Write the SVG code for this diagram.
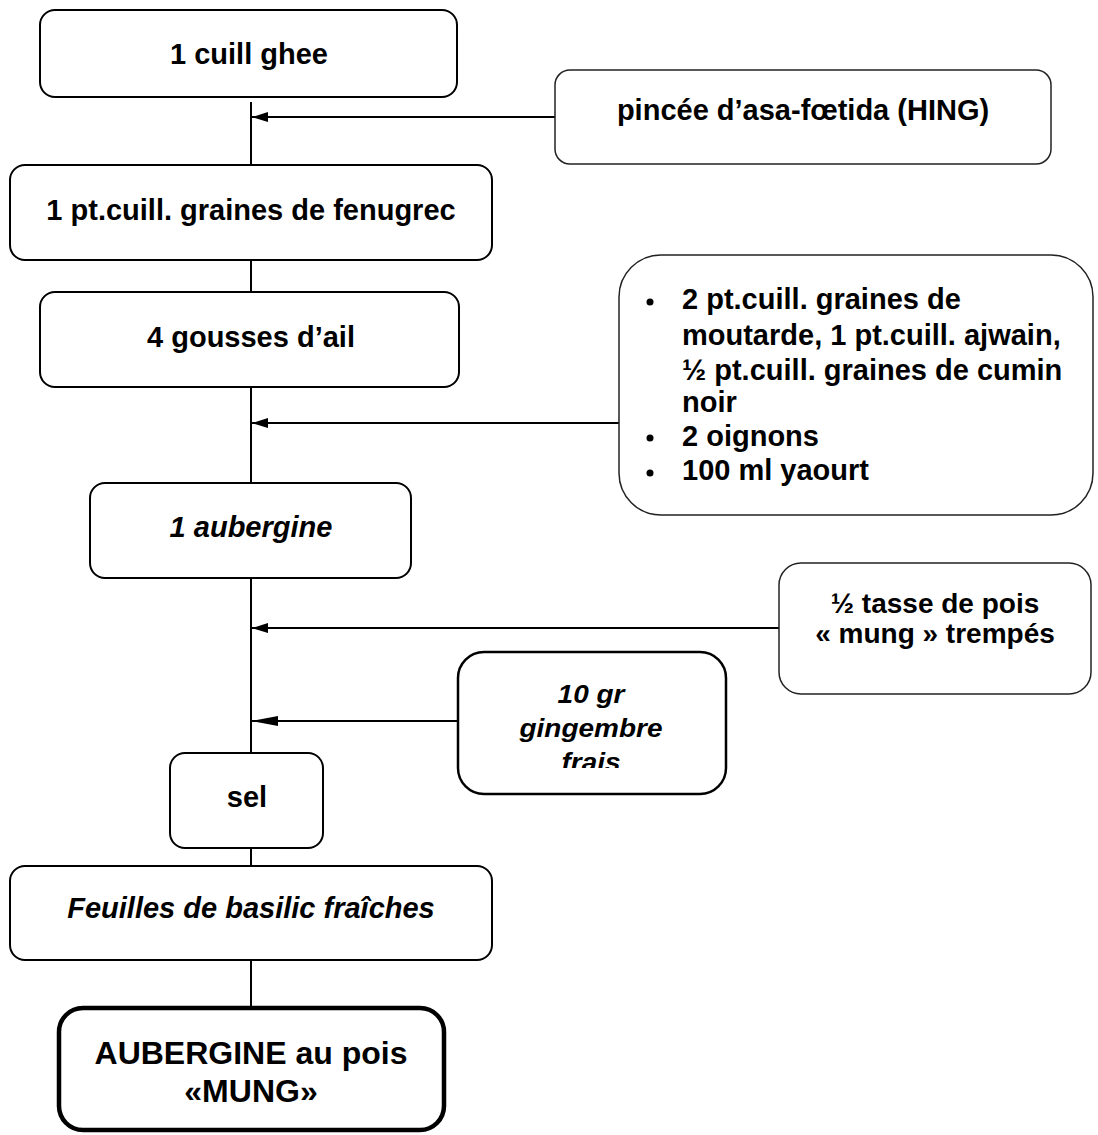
<svg xmlns="http://www.w3.org/2000/svg" width="1098" height="1135" viewBox="0 0 1098 1135">
<style>
.box{fill:#fff;stroke:#000;stroke-width:2}
.thin{stroke-width:1.5;stroke:#222}
.t{font-family:"Liberation Sans",Arial,sans-serif;font-weight:bold;font-size:29px;fill:#000}
.c{text-anchor:middle}
.i{font-style:italic}
.ln{stroke:#000;stroke-width:2;fill:none}
</style>
<defs>
<marker id="ah" viewBox="0 0 16 10" refX="16" refY="5" markerWidth="16" markerHeight="10" markerUnits="userSpaceOnUse" orient="auto">
<path d="M0,0 L16,5 L0,10 Z" fill="#000"/>
</marker>
<marker id="ah2" viewBox="0 0 26 10" refX="26" refY="5" markerWidth="26" markerHeight="10" markerUnits="userSpaceOnUse" orient="auto">
<path d="M0,0 L26,5 L0,10 Z" fill="#000"/>
</marker>
<clipPath id="gclip"><rect x="460" y="654" width="264" height="114"/></clipPath>
</defs>
<g id="connectors">
<line class="ln" x1="251" y1="102" x2="251" y2="165"/>
<line class="ln" x1="251" y1="260" x2="251" y2="292"/>
<line class="ln" x1="251" y1="387" x2="251" y2="483"/>
<line class="ln" x1="251" y1="578" x2="251" y2="753"/>
<line class="ln" x1="251" y1="848" x2="251" y2="866"/>
<line class="ln" x1="251" y1="960" x2="251" y2="1008"/>
<line class="ln" x1="555" y1="117" x2="252" y2="117" marker-end="url(#ah)"/>
<line class="ln" x1="619" y1="423" x2="252" y2="423" marker-end="url(#ah)"/>
<line class="ln" x1="779" y1="628" x2="252" y2="628" marker-end="url(#ah)"/>
<line class="ln" x1="458" y1="721" x2="252" y2="721" marker-end="url(#ah2)"/>
</g>
<g id="n-ghee">
<rect class="box" x="40" y="10" width="417" height="87" rx="15"/>
<text class="t c" x="249" y="64">1 cuill ghee</text>
</g>
<g id="n-asa">
<rect class="box thin" x="555" y="70" width="496" height="94" rx="15"/>
<text class="t c" x="803" y="120">pincée d’asa-fœtida (HING)</text>
</g>
<g id="n-fenugrec">
<rect class="box" x="10" y="165" width="482" height="95" rx="15"/>
<text class="t c" x="251" y="220">1 pt.cuill. graines de fenugrec</text>
</g>
<g id="n-ail">
<rect class="box" x="40" y="292" width="419" height="95" rx="15"/>
<text class="t c" x="251" y="347">4 gousses d’ail</text>
</g>
<g id="n-epices">
<rect class="box thin" x="619" y="255" width="474" height="260" rx="42"/>
<circle cx="650" cy="302" r="3.5" fill="#000"/>
<circle cx="650" cy="438" r="3.5" fill="#000"/>
<circle cx="650" cy="473" r="3.5" fill="#000"/>
<text class="t" x="682" y="309">2 pt.cuill. graines de</text>
<text class="t" x="682" y="345">moutarde, 1 pt.cuill. ajwain,</text>
<text class="t" x="682" y="380">½ pt.cuill. graines de cumin</text>
<text class="t" x="682" y="412">noir</text>
<text class="t" x="682" y="446">2 oignons</text>
<text class="t" x="682" y="480">100 ml yaourt</text>
</g>
<g id="n-aubergine">
<rect class="box" x="90" y="483" width="321" height="95" rx="15"/>
<text class="t c i" x="251" y="537">1 aubergine</text>
</g>
<g id="n-mung">
<rect class="box thin" x="779" y="563" width="312" height="131" rx="22"/>
<text class="t c" x="935" y="613" style="font-size:28px">½ tasse de pois</text>
<text class="t c" x="935" y="643" style="font-size:28px">« mung » trempés</text>
</g>
<g id="n-gingembre">
<rect class="box" x="458" y="652" width="268" height="142" rx="26" style="stroke-width:2.5"/>
<g clip-path="url(#gclip)">
<text class="t c i" transform="translate(591,703) scale(1,0.93)" style="font-size:28px">10 gr</text>
<text class="t c i" transform="translate(591,737) scale(1,0.93)" style="font-size:28px">gingembre</text>
<text class="t c i" transform="translate(591,771) scale(1,0.93)" style="font-size:28px">frais</text>
</g>
</g>
<g id="n-sel">
<rect class="box" x="170" y="753" width="153" height="95" rx="15"/>
<text class="t c" x="247" y="807">sel</text>
</g>
<g id="n-basilic">
<rect class="box" x="10" y="866" width="482" height="94" rx="15"/>
<text class="t c i" x="251" y="918">Feuilles de basilic fraîches</text>
</g>
<g id="n-final">
<rect class="box" x="59" y="1008" width="385" height="122" rx="24" style="stroke-width:4.5"/>
<text class="t c" x="251" y="1064" style="font-size:32px">AUBERGINE au pois</text>
<text class="t c" x="251" y="1102" style="font-size:32px">«MUNG»</text>
</g>
</svg>
